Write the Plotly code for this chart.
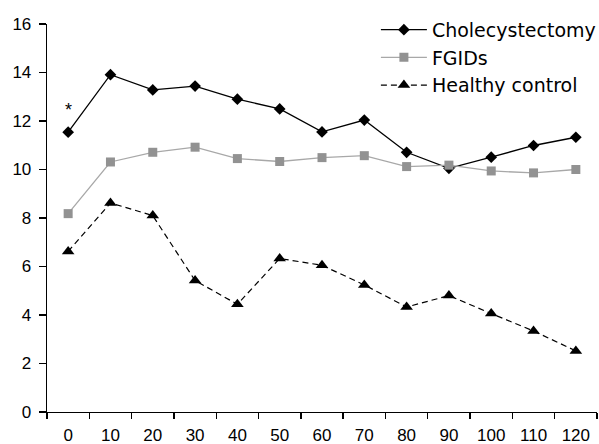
import plotly.graph_objects as go

categories = ["0", "10", "20", "30", "40", "50", "60", "70", "80", "90", "100", "110", "120"]
cholecystectomy = [11.54, 13.91, 13.28, 13.44, 12.9, 12.50, 11.55, 12.04, 10.71, 10.05, 10.51, 10.99, 11.33]
fgids = [8.18, 10.31, 10.71, 10.92, 10.45, 10.33, 10.49, 10.57, 10.12, 10.18, 9.94, 9.86, 10.0]
healthy = [6.62, 8.62, 8.10, 5.42, 4.44, 6.33, 6.05, 5.24, 4.33, 4.80, 4.06, 3.34, 2.52]
y_ticks = [0, 2, 4, 6, 8, 10, 12, 14, 16]

fig = go.Figure()
fig.add_trace(go.Scatter(
    x=categories, y=cholecystectomy, name="Cholecystectomy", mode="lines+markers",
    line=dict(color="black", width=1.3),
    marker=dict(symbol="diamond", size=9, color="black"),
))
fig.add_trace(go.Scatter(
    x=categories, y=fgids, name="FGIDs", mode="lines+markers",
    line=dict(color="#a8a8a8", width=1.3),
    marker=dict(symbol="square", size=9, color="#929292"),
))
fig.add_trace(go.Scatter(
    x=categories, y=healthy, name="Healthy control", mode="lines+markers",
    line=dict(color="black", width=1.2, dash="6px,4px"),
    marker=dict(symbol="triangle-up", size=11, color="black"),
))

fig.add_annotation(x="0", y=12.45, text="*", showarrow=False,
                   font=dict(family="Liberation Sans", size=18, color="black"))

fig.update_layout(
    width=599, height=444,
    margin=dict(l=47, r=2, t=24, b=32, autoexpand=False),
    plot_bgcolor="white", paper_bgcolor="white",
    font=dict(family="Liberation Sans", size=17, color="black"),
    showlegend=True,
    legend=dict(
        x=0.598, y=1.034, xanchor="left", yanchor="top",
        font=dict(family="DejaVu Sans", size=19, color="black"),
        itemwidth=46, bgcolor="rgba(0,0,0,0)", tracegroupgap=0,
    ),
    xaxis=dict(
        type="category", range=[-0.5, 12.5], tickson="boundaries",
        showline=True, linecolor="black", linewidth=1.3,
        ticks="outside", ticklen=6, tickcolor="black", tickwidth=1.3,
        showgrid=False, zeroline=False, ticklabelstandoff=7, automargin=False,
    ),
    yaxis=dict(
        range=[0, 16], tickvals=y_ticks,
        showline=True, linecolor="black", linewidth=1.3,
        ticks="outside", ticklen=7, tickcolor="black", tickwidth=1.3,
        showgrid=False, zeroline=False, ticklabelstandoff=4, automargin=False,
    ),
)

fig.write_html(
    "out.html",
    config={"displayModeBar": False, "staticPlot": True},
    post_script="document.body.style.margin='0';document.body.style.overflow='hidden';",
)
